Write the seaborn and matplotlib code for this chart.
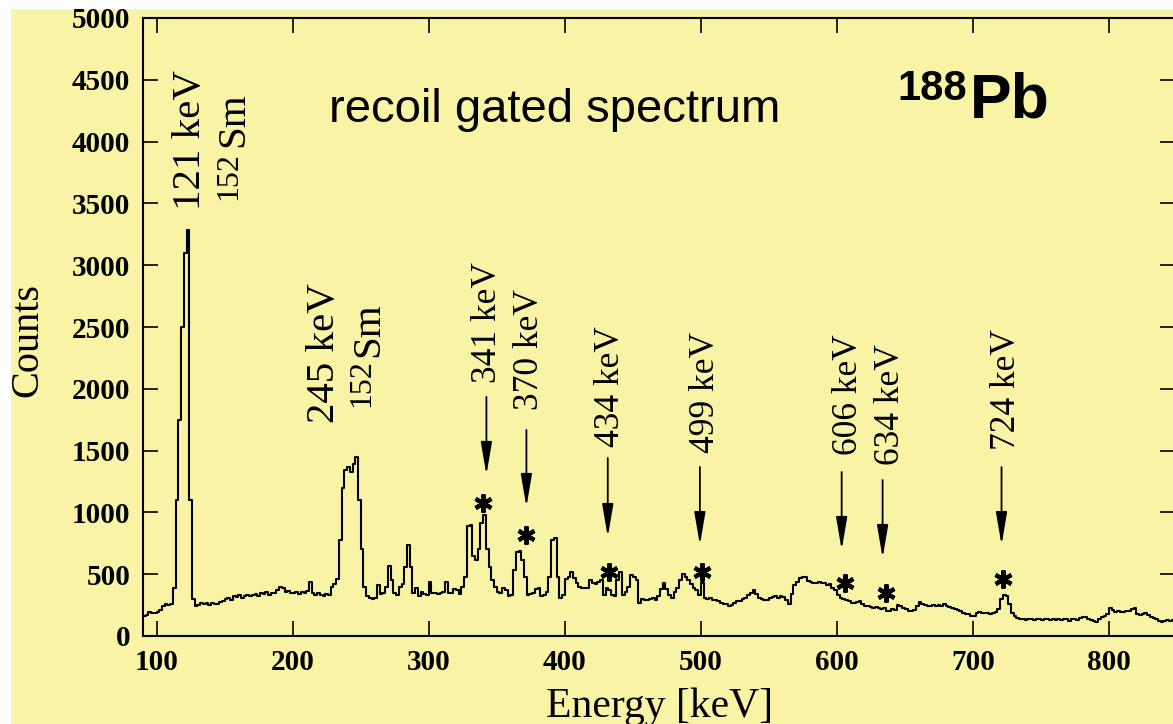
import numpy as np
import pandas as pd
import matplotlib
matplotlib.use("Agg")
import matplotlib.pyplot as plt
from matplotlib.patches import Rectangle
import seaborn as sns

# ---------------- data ----------------
bin_start = 90      # keV
bin_width = 2       # keV
counts = [
    160, 170, 195, 190, 185, 195, 210, 240, 255, 250,     # 90-110
    255, 390, 1100, 1750, 2500, 3100, 3285, 1100, 300, 245,  # 110-130
    250, 265, 255, 270, 250, 265, 255, 260, 275, 285,     # 130-150
    300, 310, 295, 320, 315, 330, 310, 325, 335, 320,     # 150-170
    330, 340, 325, 345, 340, 355, 335, 350, 345, 370,     # 170-190
    400, 385, 360, 365, 350, 345, 360, 340, 355, 345,     # 190-210
    365, 440, 350, 330, 345, 335, 325, 340, 330, 400,     # 210-230
    420, 460, 780, 1200, 1340, 1370, 1330, 1390, 1450, 1100,  # 230-250
    700, 400, 320, 305, 300, 310, 410, 340, 345, 400,     # 250-270
    570, 450, 345, 335, 400, 420, 560, 735, 560, 345,     # 270-290
    385, 320, 360, 340, 330, 440, 345, 350, 340, 345,     # 290-310
    360, 440, 350, 345, 380, 370, 340, 400, 480, 890,     # 310-330
    900, 650, 615, 700, 915, 980, 700, 560, 450, 400,     # 330-350
    360, 345, 385, 370, 320, 330, 530, 680, 690, 615,     # 350-370
    480, 335, 340, 345, 380, 385, 320, 330, 360, 480,     # 370-390
    775, 790, 480, 305, 330, 465, 480, 520, 470, 425,     # 390-410
    400, 390, 385, 390, 455, 430, 420, 440, 455, 335,     # 410-430
    385, 370, 330, 320, 450, 520, 330, 360, 400, 495,     # 430-450
    480, 450, 270, 300, 290, 295, 300, 310, 290, 320,     # 450-470
    380, 430, 380, 330, 305, 360, 390, 450, 505, 480,     # 470-490
    450, 420, 390, 370, 335, 425, 310, 300, 305, 295,     # 490-510
    290, 280, 270, 255, 260, 240, 250, 265, 285, 280,     # 510-530
    300, 305, 330, 350, 370, 340, 310, 300, 295, 290,     # 530-550
    305, 318, 320, 310, 320, 315, 290, 255, 340, 410,     # 550-570
    440, 470, 480, 475, 445, 440, 430, 425, 435, 430,     # 570-590
    425, 415, 420, 390, 370, 330, 310, 300, 290, 285,     # 590-610
    270, 265, 275, 280, 255, 240, 245, 235, 230, 235,     # 610-630
    225, 220, 230, 205, 200, 215, 210, 250, 240, 230,     # 630-650
    215, 205, 200, 210, 240, 275, 260, 250, 240, 245,     # 650-670
    250, 245, 250, 240, 255, 245, 235, 225, 215, 210,     # 670-690
    200, 190, 180, 175, 165, 160, 190, 195, 185, 190,     # 690-710
    185, 180, 185, 195, 215, 300, 330, 320, 260, 185,     # 710-730
    160, 145, 140, 135, 130, 140, 135, 130, 140, 135,     # 730-750
    130, 140, 135, 130, 140, 130, 135, 130, 140, 135,     # 750-770
    125, 135, 140, 130, 145, 150, 155, 140, 130, 125,     # 770-790
    115, 140, 155, 165, 180, 230, 210, 195, 200, 195,     # 790-810
    195, 200, 205, 215, 225, 175, 170, 180, 185, 170,     # 810-830
    150, 145, 140, 125, 115, 120, 130, 125, 130, 128,     # 830-850
]

# labelled peaks with arrows
arrow_labels = ["341 keV", "370 keV", "434 keV", "499 keV", "606 keV", "634 keV", "724 keV"]
arrow_energy = [342.4, 371.8, 431.6, 499.3, 603.5, 633.6, 721.0]
arrow_top = [1934, 1667, 1440, 1367, 1327, 1262, 1367]
arrow_tip = [1303, 1044, 801, 736, 696, 631, 736]
label_energy = [343.4, 374.3, 433.8, 503.7, 608.5, 639.3, 724.6]
label_bottom = [2047, 1828, 1529, 1481, 1464, 1383, 1505]

# asterisks
star_energy = [339.7, 371.8, 432.4, 500.5, 605.9, 636.0, 721.8]
star_counts = [1076, 817, 520, 520, 426, 350, 459]

# 152Sm calibration lines
cal_labels = ["121 keV", "245 keV"]
cal_energy = [125.0, 223.5]
cal_bottom = [3447, 1723]
sm_num_energy = [153.0, 251.0]
sm_num_bottom = [3528, 1853]
sm_sym_energy = [156.6, 256.0]
sm_sym_bottom = [3956, 2257]

x_ticks = [100, 200, 300, 400, 500, 600, 700, 800]
y_ticks = list(range(0, 5001, 500))

# ---------------- style ----------------
YELLOW = "#F9F3A6"
sns.set_style("ticks")
plt.rcParams["font.family"] = ["Liberation Serif", "DejaVu Serif"]
plt.rcParams["text.color"] = "black"
plt.rcParams["xtick.color"] = "black"
plt.rcParams["ytick.color"] = "black"
plt.rcParams["xtick.labelcolor"] = "black"
plt.rcParams["ytick.labelcolor"] = "black"
plt.rcParams["axes.edgecolor"] = "black"

W, H = 1173, 724
fig = plt.figure(figsize=(W / 100, H / 100), dpi=100, facecolor="white")
fig.patches.append(Rectangle((11 / W, 0), 1 - 11 / W, 1 - 9 / H, transform=fig.transFigure,
                             facecolor=YELLOW, edgecolor="none", zorder=-10))

ax = fig.add_axes([143 / W, 88 / H, 1032 / W, 618 / H])
ax.set_facecolor(YELLOW)

energy = bin_start + bin_width / 2 + bin_width * np.arange(len(counts))
df = pd.DataFrame({"Energy": energy, "Counts": counts})
sns.lineplot(data=df, x="Energy", y="Counts", drawstyle="steps-mid", color="black",
             lw=1.5, estimator=None, ax=ax)

ax.set_xlim(90, 848.5)
ax.set_ylim(0, 5000)
ax.set_xticks(x_ticks)
ax.set_yticks(y_ticks)
ax.set_xlabel("")
ax.set_ylabel("")
ax.tick_params(direction="in", length=11, width=1.2, top=True, right=True,
               labelsize=21, pad=9, color="black", labelcolor="black")
for lab in ax.get_xticklabels() + ax.get_yticklabels():
    lab.set_fontweight("bold")
for s in ax.spines.values():
    s.set_linewidth(1.5)
    s.set_color("black")

# arrows and labels
for lab, e, top, tip, le, lb in zip(arrow_labels, arrow_energy, arrow_top, arrow_tip,
                                     label_energy, label_bottom):
    ax.annotate("", xy=(e, tip), xytext=(e, top),
                arrowprops=dict(arrowstyle="-|>,head_length=1.0,head_width=0.17",
                                mutation_scale=20, lw=1.3, color="black",
                                shrinkA=0, shrinkB=0))
    ax.text(le, lb, lab, rotation=90, ha="center", va="bottom", fontsize=25.5, color="black")

ax.plot(star_energy, star_counts, ls="none", marker=(6, 2, 0), ms=13, mew=3.0, color="black")

for lab, e, b in zip(cal_labels, cal_energy, cal_bottom):
    ax.text(e, b, lab, rotation=90, ha="center", va="bottom", fontsize=29.5, color="black")
for e, b in zip(sm_num_energy, sm_num_bottom):
    ax.text(e, b, "152", rotation=90, ha="center", va="bottom", fontsize=23, color="black")
for e, b in zip(sm_sym_energy, sm_sym_bottom):
    ax.text(e, b, "Sm", rotation=90, ha="center", va="bottom", fontsize=29.5, color="black")

# titles
ax.text(227, 4159, "recoil gated spectrum", fontsize=34, family=["Liberation Sans"],
        ha="left", va="baseline", color="black")
fig.text(967 / W, 1 - 100 / H, "188", fontsize=30, fontweight="bold",
         family=["Liberation Sans"], ha="right", va="baseline", color="black")
fig.text(970 / W, 1 - 118 / H, "Pb", fontsize=45, fontweight="bold",
         family=["Liberation Sans"], ha="left", va="baseline", color="black")

# axis titles
fig.text(28 / W, 1 - 340 / H, "Counts", rotation=90, fontsize=29, ha="center", va="center",
         color="black")
fig.text(660 / W, 1 - 717 / H, "Energy [keV]", fontsize=30, ha="center", va="baseline",
         color="black")

fig.savefig("out.png", dpi=100, facecolor=fig.get_facecolor())
